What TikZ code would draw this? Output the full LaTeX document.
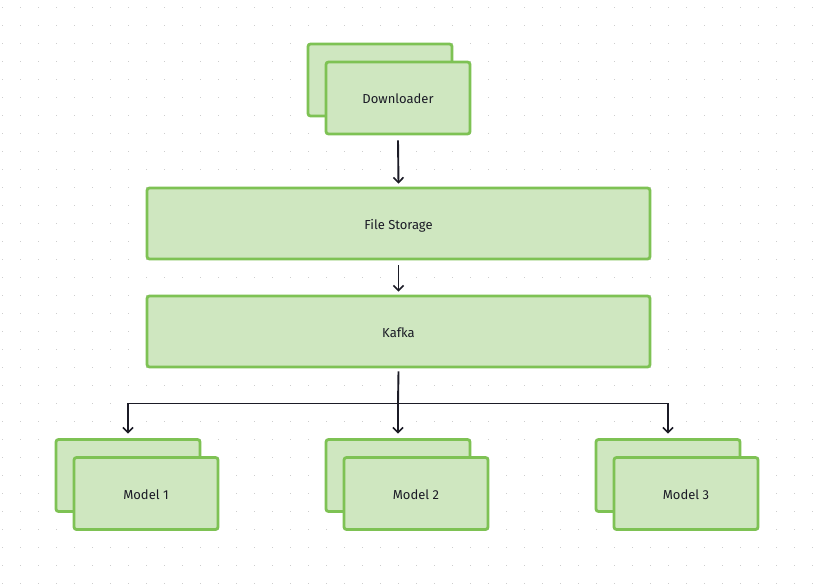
\documentclass[tikz,border=0pt]{standalone}
\usepackage{fontspec}
\setmainfont{Fira Sans}
\usetikzlibrary{arrows.meta}
\definecolor{boxfill}{RGB}{207,231,192}
\definecolor{boxline}{RGB}{126,194,84}
\definecolor{lineink}{RGB}{27,27,38}
\definecolor{dotc}{RGB}{205,205,205}
\tikzset{
  x=1pt, y=-1pt,
  card/.style={draw=boxline, fill=boxfill, line width=2.8pt, rounded corners=2.5pt,
    minimum width=144pt, minimum height=72pt, inner sep=0pt, text=lineink,
    text height=11.5pt, text depth=0pt,
    font=\fontsize{13}{15}\selectfont},
  wide/.style={card, minimum width=503pt, minimum height=71pt},
  conn/.style={draw=lineink, line width=1.9pt, -{Straight Barb[length=5pt,width=10pt,line width=1.6pt]}},
  plain/.style={draw=lineink, line width=1.9pt}
}
\begin{document}
\begin{tikzpicture}
\useasboundingbox (0,0) rectangle (815,586);
\fill[white] (0,0) rectangle (815,586);
\foreach \i in {0,...,45} {
  \foreach \j in {0,...,32} {
    \fill[dotc] ({2.5+18*\i-0.75},{7.5+18*\j-0.75}) rectangle ++(1.5,1.5);
  }
}
% Downloader
\node[card] (dlb) at (380,80) {};
\node[card] (dl) at (398,98) {Downloader};
% storage
\node[wide] (fs) at (398.5,223.5) {File Storage};
\node[wide] (kf) at (398.5,331.5) {Kafka};
% models
\node[card] (m1b) at (128,475.5) {};
\node[card] (m1) at (146,493.5) {Model 1};
\node[card] (m2b) at (398,475.5) {};
\node[card] (m2) at (416,493.5) {Model 2};
\node[card] (m3b) at (668,475.5) {};
\node[card] (m3) at (686,493.5) {Model 3};
% connectors
\draw[conn] ([yshift=-5pt]dl.south) -- ([yshift=3pt]fs.north);
\draw[conn] ([yshift=-5pt]fs.south) -- ([yshift=3pt]kf.north);
\coordinate (br) at (398,403.5);
\draw[plain] ([yshift=-3pt]kf.south) -- (br);
\draw[plain] (127,403.5) -- (669,403.5);
\draw[conn] (br) -- ([yshift=4.5pt]m2b.north);
\draw[conn] (m1b.north |- br) -- ([yshift=4.5pt]m1b.north);
\draw[conn] (m3b.north |- br) -- ([yshift=4.5pt]m3b.north);
\end{tikzpicture}
\end{document}
